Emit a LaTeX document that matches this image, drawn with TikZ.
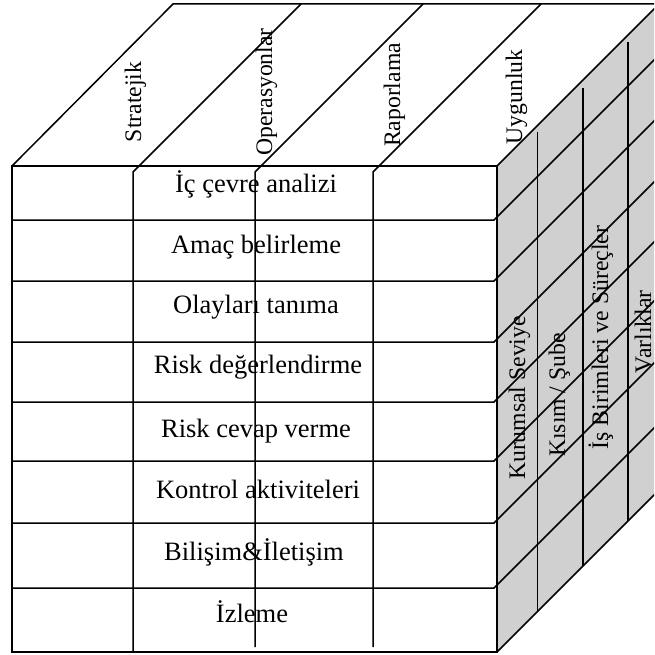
\documentclass[tikz,border=0pt]{standalone}
\usepackage{fontspec}
\setmainfont{Liberation Serif}
\definecolor{sidegray}{RGB}{208,208,208}
\begin{document}
\begin{tikzpicture}[x=1pt,y=-1pt,
  edge/.style={draw=black, line width=1.5pt, line cap=butt},
  rowlabel/.style={font=\fontsize{26.5}{30}\selectfont, anchor=base, inner sep=0pt},
  dimlabel/.style={font=\fontsize{23.7}{28}\selectfont, rotate=90, anchor=base, inner sep=0pt}]
\useasboundingbox (0,0) rectangle (654,655);
\begin{scope}
\clip (0,0) rectangle (654,655);
% side face (shaded)
\fill[sidegray] (497,166) -- (659,4) -- (659,491) -- (497,652) -- cycle;
% top face outline
\draw[edge] (12,166) -- (173,4) -- (670,4);
\draw[edge] (497,166) -- (662,1);
% front face outline
\draw[edge] (12,166) rectangle (497,652);
% side face bottom edge
\draw[edge] (497,652) -- (662,487);
% column dividers: front verticals continuing as top diagonals
\draw[edge] (133,652) -- (133,172) -- (301,4);
\draw[edge] (255,647) -- (255,172) -- (423,4);
\draw[edge] (373,647) -- (373,172) -- (541,4);
% row dividers: front horizontals continuing as side diagonals
\foreach \r in {220,281,342,402,461,523,588}{
  \draw[edge] (12,\r) -- (494,\r) -- ++(175,-175);
}
% side face verticals
\draw[edge] (537.5,132) -- (537.5,612);
\draw[edge] (583,88) -- (583,566);
\draw[edge] (628,42) -- (628,521);
\end{scope}
% objective labels on the top face
\node[dimlabel] (strat) at (141,102) {Stratejik};
\node[dimlabel] (oper)  at (272,92)  {Operasyonlar};
\node[dimlabel] (rapor) at (400,95)  {Raporlama};
\node[dimlabel] (uygun) at (522,97)  {Uygunluk};
% component labels on the front face
\node[rowlabel] (r1) at (256,193) {İç çevre analizi};
\node[rowlabel] (r2) at (256,253) {Amaç belirleme};
\node[rowlabel] (r3) at (256,313) {Olayları tanıma};
\node[rowlabel] (r4) at (258,373) {Risk değerlendirme};
\node[rowlabel] (r5) at (256,437) {Risk cevap verme};
\node[rowlabel] (r6) at (258,498) {Kontrol aktiviteleri};
\node[rowlabel] (r7) at (254,560) {Bilişim\&İletişim};
\node[rowlabel] (r8) at (252,622) {İzleme};
% unit labels on the side face
\node[dimlabel] (kur) at (525,398)   {Kurumsal Seviye};
\node[dimlabel] (kis) at (565,395)   {Kısım / Şube};
\node[dimlabel] (isb) at (608,337.5) {İş Birimleri ve Süreçler};
\node[dimlabel] (var) at (651,332)   {Varlıklar};
\end{tikzpicture}
\end{document}
